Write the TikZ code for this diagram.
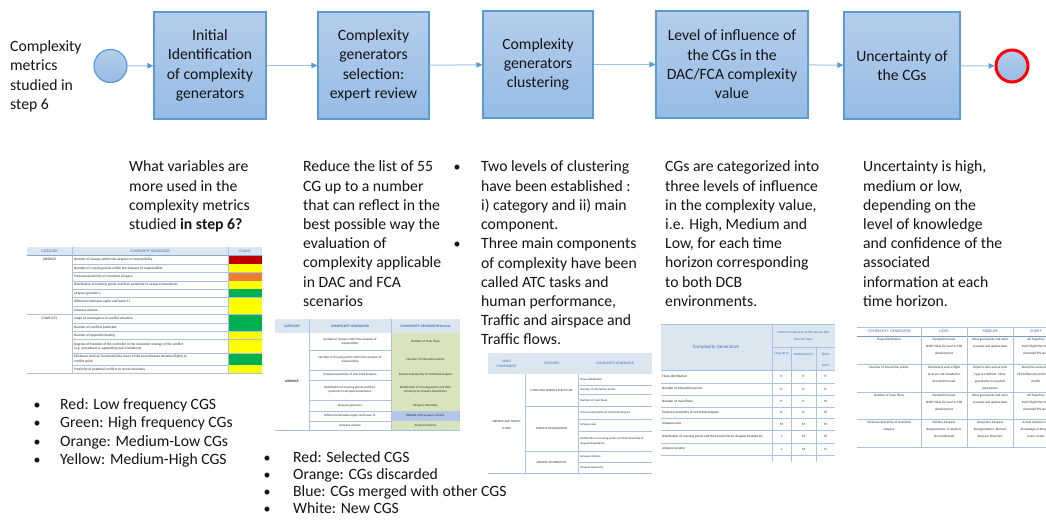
\documentclass[tikz,border=0pt]{standalone}
\usepackage{fontspec}
\setmainfont{Carlito}
\usetikzlibrary{arrows.meta}
\definecolor{bxborder}{RGB}{91,155,213}
\definecolor{bxtop}{RGB}{180,205,235}
\definecolor{bxbot}{RGB}{150,188,229}
\definecolor{arr}{RGB}{157,195,230}
\definecolor{arrhead}{RGB}{91,155,213}
\definecolor{tline}{RGB}{170,194,226}
\definecolor{thfill}{RGB}{220,230,241}
\definecolor{thtext}{RGB}{60,110,175}
\definecolor{ttext}{RGB}{45,45,45}
\definecolor{cred}{RGB}{192,0,0}
\definecolor{cyel}{RGB}{255,255,0}
\definecolor{cora}{RGB}{237,125,49}
\definecolor{cgre}{RGB}{0,176,80}
\definecolor{rgreen}{RGB}{216,228,188}
\definecolor{rblue}{RGB}{180,198,231}
\definecolor{txtc}{RGB}{20,20,20}
\tikzset{
  stepbox/.style={draw=bxborder, line width=1.2pt, top color=bxtop, bottom color=bxbot,
    align=center, font=\fontsize{15.7}{19.4}\selectfont, text=txtc, inner sep=0pt},
  evt/.style={circle, draw=bxborder, line width=1.2pt, top color=bxtop, bottom color=bxbot, minimum size=33pt, inner sep=0pt},
  flow/.style={draw=arr, line width=1pt, -{Triangle[length=6pt,width=5.5pt,color=arrhead]}},
  txt/.style={font=\fontsize{15.7}{19.2}\selectfont, align=left, inner sep=0pt, anchor=base west, text=txtc},
  blt/.style={font=\fontsize{14}{19.2}\selectfont, inner sep=0pt, anchor=base, text=txtc},
  tl/.style={draw=tline, line width=0.5pt},
  tt/.style={font=\fontsize{3.5}{4.3}\selectfont, text=ttext, inner sep=0pt, align=left},
  ttc/.style={font=\fontsize{3.2}{4.2}\selectfont, text=ttext, inner sep=0pt, align=center},
  th/.style={font=\fontsize{3.8}{4.6}\selectfont, text=thtext, inner sep=0pt, align=center},
}
\begin{document}
\begin{tikzpicture}[x=1pt,y=-1pt]
\useasboundingbox (0,0) rectangle (1046,521);
\clip (0,0) rectangle (1046,521);
\fill[white] (0,0) rectangle (1046,521);

% ---------- top flow ----------
% (multi-line text nodes: base anchor = baseline of the last line)
\node[txt] (intro) at (10,109.3) {Complexity\\metrics\\studied in\\step 6};
\node[evt] (c0) at (110.5,66) {};
\node[stepbox, minimum width=112pt, minimum height=107pt] (b1) at (210,65.5) {Initial\\Identification\\of complexity\\generators};
\node[stepbox, minimum width=111pt, minimum height=107pt] (b2) at (373.5,65.5) {Complexity\\generators\\selection:\\expert review};
\node[stepbox, minimum width=110pt, minimum height=107pt] (b3) at (538,64.5) {Complexity\\generators\\clustering};
\node[stepbox, minimum width=152pt, minimum height=107pt] (b4) at (732,64.5) {Level of influence of\\the CGs in the\\DAC/FCA complexity\\value};
\node[stepbox, minimum width=116pt, minimum height=107pt] (b5) at (902,65.5) {Uncertainty of\\the CGs};
\node[evt, draw=red, line width=3pt, minimum size=32pt] (c1) at (1012,66) {};
\draw[flow] (c0) -- (b1);
\draw[flow] (b1) -- (b2);
\draw[flow] (b2) -- (b3);
\draw[flow] (b3) -- (b4);
\draw[flow] (b4) -- (b5);
\draw[flow] (b5) -- (c1);

% ---------- descriptions ----------
\node[txt] (d1) at (129,229.6) {What variables are\\more used in the\\complexity metrics\\studied \textbf{in step 6?}};
\node[txt] (d2) at (303,306.4) {Reduce the list of 55\\CG up to a number\\that can reflect in the\\best possible way the\\evaluation of\\complexity applicable\\in DAC and FCA\\scenarios};
\node[blt] (d3b1) at (457,172) {•};
\node[txt] (d3a) at (481,229.6) {Two levels of clustering\\have been established :\\i) category and ii) main\\component.};
\node[blt] (d3b2) at (457,248.8) {•};
\node[txt] (d3c) at (481,344.8) {Three main components\\of complexity have been\\called ATC tasks and\\human performance,\\Traffic and airspace and\\Traffic flows.};
\node[txt] (d4) at (665,306.4) {CGs are categorized into\\three levels of influence\\in the complexity value,\\i.e. High, Medium and\\Low, for each time\\horizon corresponding\\to both DCB\\environments.};
\node[txt] (d5) at (863,306.4) {Uncertainty is high,\\medium or low,\\depending on the\\level of knowledge\\and confidence of the\\associated\\information at each\\time horizon.};

% ---------- legends ----------
\foreach \t [count=\i] in {Red: Low frequency CGS, Green: High frequency CGs, Orange: Medium-Low CGs, Yellow: Medium-High CGS}{
  \node[blt] (l1b\i) at (37,{409+(\i-1)*18.5}) {•};
  \node[txt] (l1t\i) at (60,{409+(\i-1)*18.5}) {\t};
}
\foreach \t [count=\i] in {Red: Selected CGS, Orange: CGs discarded, Blue: CGs merged with other CGS, White: New CGS}{
  \node[blt] (l2b\i) at (267,{462+(\i-1)*17}) {•};
  \node[txt] (l2t\i) at (293,{462+(\i-1)*17}) {\t};
}

% ---------- table 1 ----------
\fill[thfill] (27,247) rectangle (262,255);
\node[th] (t1h1) at (49.5,251.3) {CATEGORY};
\node[th] (t1h2) at (150,251.3) {COMPLEXITY GENERATOR};
\node[th] (t1h3) at (245,251.3) {COUNT};
\foreach \ya/\yb/\c/\t [count=\i] in {
  255/264/cred/{Number of airways within the airspace of responsibility},
  264/272.3/cyel/{Number of crossing points within the airspace of responsibility},
  272.3/281/cora/{Presence/proximity of restricted airspace},
  281/289/cyel/{Distribution of crossing points and their proximity to airspace boundaries},
  289/297.7/cgre/{airspace geometry},
  297.7/306/cyel/{Difference between upper and lower FL},
  306/314.3/cyel/{Airspace volume},
  314.3/323/cgre/{Angle of convergence in conflict situation},
  323/331.3/cgre/{Number of conflicts predicted},
  331.3/339.7/cyel/{Number of opposite heading},
  339.7/353.3/cyel/{Degrees of freedom of the controller in the resolution strategy of the conflict\\(e.g. procedural or supporting tools limitations)},
  353.3/365/cgre/{Minimum vertical/ horizontal (the lower of the two) distance between flights at\\conflict point},
  365/373.3/cyel/{Proximity of potential conflicts to sector boundary}}{
  \fill[\c] (228.5,\ya+0.4) rectangle (262,\yb-0.4);
  \draw[tl] (72,\yb) -- (262,\yb);
  \node[tt, anchor=west] (t1g\i) at (74,{(\ya+\yb)/2}) {\t};
}
\draw[draw=thtext!60, line width=0.5pt] (27,255) -- (262,255);
\draw[tl] (72,247) -- (72,373.3) (228,247) -- (228,373.3);
\draw[tl] (27,314.3) -- (72,314.3) (27,373.3) -- (72,373.3);
\node[tt] (t1c1) at (49.5,259.5) {AIRSPACE};
\node[tt] (t1c2) at (49.5,318.6) {CONFLICTS};

% ---------- table 2 ----------
\fill[thfill] (275,319) rectangle (460,333);
\node[th, font=\bfseries\fontsize{3.6}{4.4}\selectfont] (t2h1) at (292,326) {CATEGORY};
\node[th, font=\bfseries\fontsize{3.6}{4.4}\selectfont] (t2h2) at (350,326) {COMPLEXITY GENERATOR};
\node[th, font=\bfseries\fontsize{3.6}{4.4}\selectfont] (t2h3) at (425.5,326) {COMPLEXITY GENERATOR Review};
\foreach \ya/\yb/\c/\g/\r [count=\i] in {
  333/350/rgreen/{Number of airways within the airspace of\\responsibility}/{Number of main flows},
  350/370/rgreen/{Number of crossing points within the airspace of\\responsibility}/{Number of interaction points},
  370/380/rgreen/{Presence/proximity of restricted airspace}/{Presence/proximity of restricted airspace},
  380/400/rgreen/{Distribution of crossing points and their\\proximity to airspace boundaries}/{Distribution of crossing points and their\\proximity to airspace boundaries},
  400/411/rgreen/{Airspace geometry}/{Airspace Geometry},
  411/421/rblue/{Difference between upper and lower FL}/{Related with airspace volume},
  421/430/rgreen/{Airspace volume}/{Airspace Volume}}{
  \fill[\c] (391.5,\ya+0.4) rectangle (460,\yb-0.4);
  \draw[tl] (309,\yb) -- (460,\yb);
  \node[ttc] (t2g\i) at (350,{(\ya+\yb)/2}) {\g};
  \node[ttc] (t2r\i) at (425.5,{(\ya+\yb)/2}) {\r};
}
\draw[tl] (309,319) -- (309,430) (391,319) -- (391,430) (275,430) -- (309,430);
\node[ttc, font=\bfseries\fontsize{3.4}{4.2}\selectfont] (t2c1) at (292,381) {AIRSPACE};

% ---------- table 3 ----------
\fill[thfill] (488,353) rectangle (652,374.3);
\node[th, font=\fontsize{3.6}{5}\selectfont] (t3h1) at (506.5,363.5) {MAIN\\COMPONENT};
\node[th, font=\fontsize{3.6}{5}\selectfont] (t3h2) at (551.5,363.5) {CATEGORY};
\node[th, font=\fontsize{3.6}{5}\selectfont] (t3h3) at (615,363.5) {COMPLEXITY GENERATOR};
\foreach \ya/\yb/\t [count=\i] in {
  374.3/385/{Flows distribution},
  385/394.3/{Number of interaction points},
  394.3/406.7/{Number of main flows},
  406.7/419/{Presence/proximity of restricted airspace},
  419/431/{Airspace uses},
  431/451/{Distribution of crossing points and their proximity to\\airspace boundaries},
  451/462.7/{Airspace Volume},
  462.7/473.3/{Airspace Geometry}}{
  \draw[tl] (578,\yb) -- (652,\yb);
  \node[tt, font=\fontsize{3}{5}\selectfont, anchor=west] (t3g\i) at (580,{(\ya+\yb)/2}) {\t};
}
\draw[tl] (525,406.7) -- (578,406.7) (525,451) -- (578,451) (488,473.3) -- (578,473.3);
\draw[tl] (525,374.3) -- (525,473.3) (578,374.3) -- (578,473.3);
\node[ttc, font=\fontsize{3}{5}\selectfont] (t3c1) at (551.5,390.5) {FLOWS AND AIRSPACE STRUCTURE};
\node[ttc, font=\fontsize{3}{5}\selectfont] (t3c2) at (551.5,429) {AIRSPACE ORGANIZATION};
\node[ttc, font=\fontsize{3}{5}\selectfont] (t3c3) at (551.5,463) {AIRSPACE DISTRIBUTION};
\node[ttc, font=\fontsize{3}{7}\selectfont] (t3m) at (506.5,425) {AIRSPACE AND TRAFFIC\\FLOWS};

% ---------- table 4 ----------
\fill[thfill] (661,324) rectangle (835,370);
\node[th, font=\fontsize{5}{6}\selectfont] (t4h1) at (716,347) {Complexity Generators};
\node[th, font=\fontsize{3.3}{7}\selectfont] (t4h2) at (803.5,335.5) {Influence/relevance at the various DAC\\time horizons};
\node[th, font=\fontsize{3.4}{11}\selectfont] (t4h3) at (781.5,354) {Long term};
\node[th, font=\fontsize{3.4}{11}\selectfont] (t4h4) at (803.5,354) {Medium term};
\node[th, font=\fontsize{3.4}{11}\selectfont] (t4h5) at (825.5,359.5) {Short\\term};
\draw[tl] (772,347) -- (835,347);
\draw[tl] (772,324) -- (772,462) (791,347) -- (791,462) (816,347) -- (816,462);
\draw[tl] (661,324) -- (835,324);
\foreach \ya/\yb/\t/\l/\m/\s [count=\i] in {
  370/383/{Flows distribution}/H/H/H,
  383/395/{Number of interaction points}/H/H/H,
  395/407/{Number of main flows}/H/H/M,
  407/418/{Presence/proximity of restricted airspace}/H/H/M,
  418/430/{Airspace uses}/M/M/M,
  430/443/{Distribution of crossing points and their proximity to airspace boundaries}/L/M/M,
  443/455/{Airspace volume}/L/M/H}{
  \draw[tl] (661,\yb) -- (835,\yb);
  \node[tt, font=\fontsize{3.4}{4}\selectfont, text=black!85, anchor=west] (t4g\i) at (662,{(\ya+\yb)/2}) {\t};
  \node[ttc, font=\fontsize{3.4}{4}\selectfont] (t4l\i) at (781.5,{(\ya+\yb)/2}) {\l};
  \node[ttc, font=\fontsize{3.4}{4}\selectfont] (t4m\i) at (803.5,{(\ya+\yb)/2}) {\m};
  \node[ttc, font=\fontsize{3.4}{4}\selectfont] (t4s\i) at (825.5,{(\ya+\yb)/2}) {\s};
}
\draw[tl] (661,370) -- (835,370);

% ---------- table 5 ----------
\node[th, font=\fontsize{4}{5}\selectfont] (t5h1) at (889,331.5) {COMPLEXITY\ \ GENERATOR};
\node[th, font=\fontsize{4}{5}\selectfont] (t5h2) at (944,331.5) {LONG};
\node[th, font=\fontsize{4}{5}\selectfont] (t5h3) at (990,331.5) {MEDIUM};
\node[th, font=\fontsize{4}{5}\selectfont] (t5h4) at (1036,331.5) {SHORT};
\draw[draw=thtext!70, line width=0.5pt] (857,336) -- (1046,336);
\draw[tl] (857,327) -- (1046,327);
\draw[tl] (921,327) -- (921,447) (967,327) -- (967,447) (1013,327) -- (1013,447);
\tikzset{t5/.style={ttc, font=\fontsize{3.3}{6.8}\selectfont, anchor=north}}
\foreach \ya/\yb/\a/\b/\c/\d [count=\i] in {
  336/364/{Flows distribution}/{Demand forecast\\ANSP. Plans for local or FAB\\development}/{More granularity and more\\accurate and update data}/{4D Trajectory\\ICAO Flight Plan Data\\Extended FPL Data},
  364/392/{Number of interaction points}/{Parameters such a flight\\level are not included in\\demand forecast}/{Airports slots and aircraft\\type are defined. More\\granularity in required\\parameters}/{Real time constraints\\Climb/Descent performance\\profile},
  392/419/{Number of main flows}/{Demand forecast\\ANSP. Plans for local or FAB\\development}/{More granularity and more\\accurate and update data}/{4D Trajectory\\ICAO Flight Plan Data\\Extended FPL Data},
  419/447/{Presence/proximity of restricted\\airspace}/{Military Airspace\\Requirements. It needs to\\be coordinated}/{Temporary Airspace\\Reorganisation. Revised\\Airspace Structure}/{Actual situation and\\knowledge of Airspace\\Users' needs}}{
  \draw[tl] (857,\yb) -- (1046,\yb);
  \node[t5] (t5a\i) at (889,\ya+2.2) {\a};
  \node[t5] (t5b\i) at (944,\ya+2.2) {\b};
  \node[t5] (t5c\i) at (990,\ya+2.2) {\c};
  \node[t5] (t5d\i) at (1036,\ya+2.2) {\d};
}
\end{tikzpicture}
\end{document}
